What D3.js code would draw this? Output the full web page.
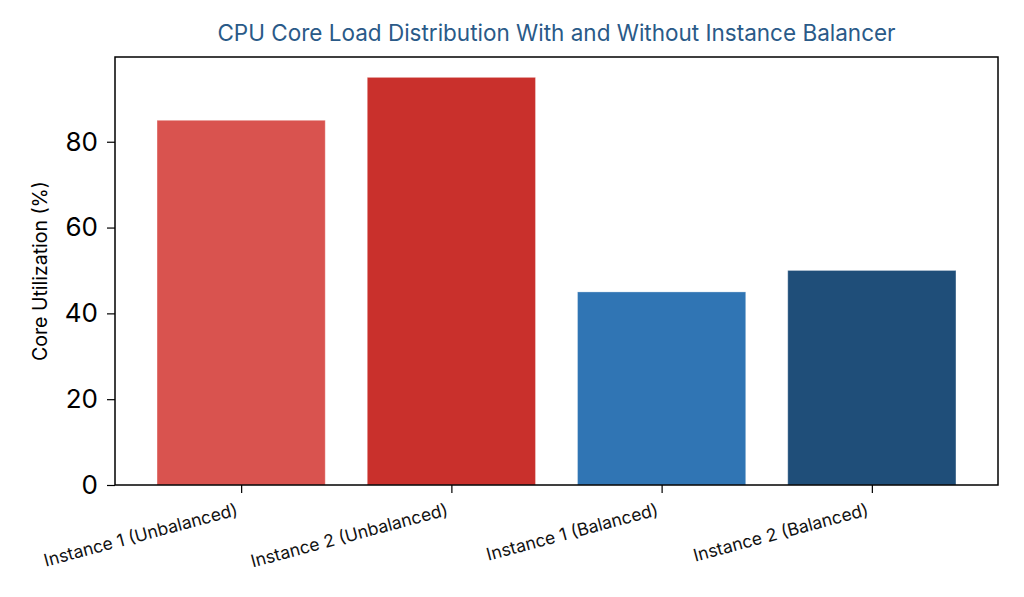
<!DOCTYPE html>
<html>
<head>
<meta charset="utf-8">
<script src="https://cdn.jsdelivr.net/npm/d3@7"></script>
<style>
    body { margin: 0; background: #fff; }
    svg { display: block; }
</style>
</head>
<body>
<svg id="chart" width="1024" height="597"></svg>
<script>
var categories = [
    "Instance 1 (Unbalanced)",
    "Instance 2 (Unbalanced)",
    "Instance 1 (Balanced)",
    "Instance 2 (Balanced)"
];
var utilization = [85, 95, 45, 50];
var barColors = ["#d9534f", "#c9302c", "#3075b4", "#1f4e79"];
var yTicks = [0, 20, 40, 60, 80];

var svg = d3.select("svg#chart"),
    margin = { left: 115, right: 26, top: 57, bottom: 112 },
    width = +svg.attr("width") - margin.left - margin.right,
    height = +svg.attr("height") - margin.top - margin.bottom,
    font = "Inter, 'Open Sans', sans-serif";

// matplotlib-style continuous x: index -0.6 .. n-0.4
var x_scale = d3.scaleLinear()
    .domain([-0.6, categories.length - 0.4])
    .range([0, width]);

var y_scale = d3.scaleLinear()
    .domain([0, d3.max(utilization) * 1.05])
    .range([height, 0]);

var g = svg.append("g")
    .attr("transform", "translate(" + margin.left + "," + margin.top + ")");

var barW = x_scale(0.8) - x_scale(0);

g.selectAll(".bar")
    .data(utilization)
    .enter()
    .append("rect")
    .attr("class", "bar")
    .attr("x", (d, i) => x_scale(i) - barW / 2)
    .attr("y", d => y_scale(d))
    .attr("width", barW)
    .attr("height", d => height - y_scale(d))
    .attr("fill", (d, i) => barColors[i])
    .attr("stroke", "#ffffff")
    .attr("stroke-opacity", 0.3)
    .attr("stroke-width", 1);

// frame
g.append("rect")
    .attr("x", 0)
    .attr("y", 0)
    .attr("width", width)
    .attr("height", height)
    .attr("fill", "none")
    .attr("stroke", "#000")
    .attr("stroke-width", 1.5);

var y_axis = d3.axisLeft(y_scale)
    .tickValues(yTicks)
    .tickSize(8)
    .tickPadding(9);

var yg = g.append("g").attr("class", "y axis").call(y_axis);
yg.select(".domain").remove();
yg.selectAll(".tick line").attr("stroke", "#000").attr("stroke-width", 1.2);
yg.selectAll(".tick text")
    .attr("font-family", font)
    .style("font-size", "26px")
    .attr("fill", "#000");

var x_axis = d3.axisBottom(x_scale)
    .tickValues(d3.range(categories.length))
    .tickFormat(i => categories[i])
    .tickSize(8);

var xg = g.append("g")
    .attr("class", "x axis")
    .attr("transform", "translate(0," + height + ")")
    .call(x_axis);
xg.select(".domain").remove();
xg.selectAll(".tick line").attr("stroke", "#000").attr("stroke-width", 1.2);
xg.selectAll(".tick text")
    .attr("font-family", font)
    .style("font-size", "17.5px")
    .attr("fill", "#111")
    .style("text-anchor", "end")
    .attr("x", 0)
    .attr("y", 0)
    .attr("dy", 0)
    .attr("transform", "translate(-3,30) rotate(-15)");

// y label
g.append("text")
    .attr("transform", "translate(" + (-68) + "," + (height / 2) + ") rotate(-90)")
    .style("text-anchor", "middle")
    .attr("font-family", font)
    .style("font-size", "19.5px")
    .attr("fill", "#000")
    .text("Core Utilization (%)");

// title
svg.append("text")
    .attr("x", margin.left + width / 2)
    .attr("y", 41)
    .style("text-anchor", "middle")
    .attr("font-family", font)
    .style("font-size", "22.5px")
    .attr("fill", "#2a5a88")
    .text("CPU Core Load Distribution With and Without Instance Balancer");
</script>
</body>
</html>
